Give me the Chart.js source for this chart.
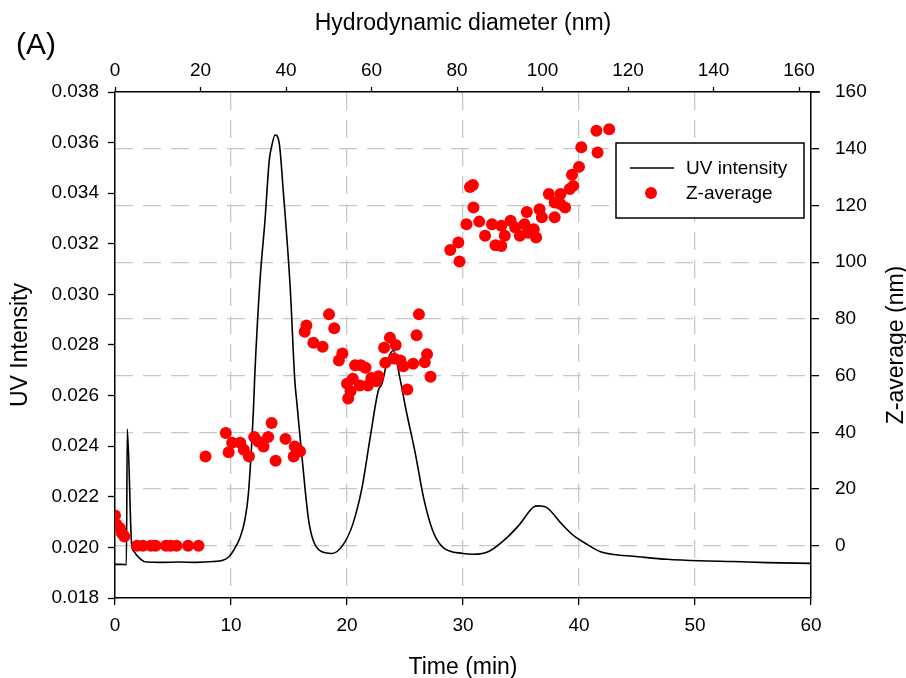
<!DOCTYPE html>
<html lang="en">
  <head>
    <meta charset="UTF-8" />
    <title>UV intensity and Z-average</title>
    <script src="https://cdn.jsdelivr.net/npm/chart.js"></script>
    <style>
      html, body {
        margin: 0;
        padding: 0;
        background-color: #fff;
      }
      .chart-box {
        position: relative;
        width: 906px;
        height: 678px;
      }
    </style>
  </head>
  <body>
    <div class="chart-box">
      <canvas id="sizeChart"></canvas>
    </div>

    <script>
      // UV trace (time in min, intensity)
      const uvTime = [0, 0.5, 0.98, 1.06, 1.43, 1.6, 2.2, 2.7, 4, 5.5, 7, 8.5, 9.3, 9.8, 10.05, 10.4, 10.78, 11.2, 11.5, 11.93, 12.05, 12.5, 12.93, 13.3, 13.5, 13.8, 14.16, 14.5, 15.1, 15.5, 15.66, 16.4, 16.7, 17.1, 17.7, 18.7, 19.7, 20.5, 21.3, 22.0, 22.7, 23.0, 23.5, 24.0, 24.6, 25.1, 25.9, 26.6, 27.4, 28.3, 30, 30.9, 32.3, 33.8, 34.9, 36.1, 36.5, 37.2, 38.4, 39.5, 40.7, 41.8, 43.0, 44.7, 47.6, 50.4, 53.3, 56.2, 60];
      const uvIntensity = [0.01933, 0.01933, 0.01932, 0.02468, 0.02014, 0.01986, 0.01954, 0.01942, 0.01941, 0.01942, 0.01941, 0.01944, 0.01949, 0.01962, 0.01976, 0.02002, 0.02039, 0.0211, 0.02212, 0.02541, 0.0268, 0.03055, 0.03293, 0.03531, 0.03584, 0.0363, 0.03597, 0.03412, 0.0303, 0.0266, 0.0258, 0.02224, 0.02105, 0.02026, 0.01986, 0.01976, 0.02013, 0.02092, 0.02237, 0.02435, 0.0262, 0.02646, 0.0274, 0.02778, 0.0266, 0.02541, 0.02369, 0.02197, 0.02065, 0.01999, 0.01976, 0.01973, 0.01986, 0.02039, 0.02092, 0.0216, 0.02164, 0.02158, 0.02098, 0.02048, 0.02012, 0.01984, 0.01972, 0.01965, 0.01953, 0.01947, 0.01944, 0.0194, 0.01937];

      // Z-average points (time in min, size in nm)
      const zTime = [0, 0.15, 0.43, 0.58, 0.8, 1.9, 2.4, 3.1, 3.5, 4.4, 4.8, 5.3, 6.3, 7.2,
        7.8, 9.55, 9.8, 10.1, 10.8, 11.1, 11.55, 12.0, 12.35, 12.8, 13.2, 13.5, 13.85, 14.7, 15.4, 15.5, 15.95,
        16.35, 16.5, 17.1, 17.9, 18.45, 18.9, 19.3, 19.6, 20.0, 20.1, 20.3, 20.5, 20.7, 21.1, 21.2, 21.6, 21.8, 22.1, 22.55, 22.7, 23.2, 23.3, 23.7, 24.05, 24.2, 24.6, 24.85, 25.2, 25.7, 26.0, 26.2, 26.7, 26.9, 27.2,
        28.9, 29.6, 29.7, 30.3, 30.6, 30.85, 30.9, 31.4, 31.9, 32.5, 32.8, 33.3, 33.3, 33.6, 34.1, 34.5, 34.9, 35.3, 35.5, 35.6, 36.1, 36.3, 36.6, 36.8, 37.4, 37.9, 37.9, 38.4, 38.4, 38.8, 39.2, 39.5, 39.4, 40.0, 40.2, 41.5, 41.6, 42.6];
      const zAverage = [10.7, 7.4, 6.2, 4.5, 3.3, 0, 0, 0, 0, 0, 0, 0, 0, 0,
        31.5, 39.8, 33, 36.3, 36.3, 33.9, 31.5, 38.4, 36.8, 35, 38.4, 43.3, 30, 37.7, 31.5, 35, 33.3,
        75.5, 77.7, 71.6, 70.2, 81.6, 76.7, 65.3, 67.8, 57.1, 51.9, 54.5, 58.9, 63.7, 56.5, 63.7, 62.8, 56.5, 59.2, 58, 59.8, 69.8, 64.5, 73.4, 66, 70.8, 65.3, 63.3, 55.1, 64.2, 74.2, 81.6, 64.7, 67.5, 59.6,
        104.3, 106.9, 100.2, 113.4, 126.5, 127.2, 119.3, 114.3, 109.3, 113.4, 106, 105.7, 112.8, 109.3, 114.6, 112.2, 109.3, 113.4, 117.7, 110.4, 111.6, 108.7, 118.7, 115.8, 124, 121, 115.8, 124, 120.5, 119.3, 125.8, 126.9, 130.8, 133.6, 140.5, 146.3, 138.7, 146.9];

      // axis ranges
      const timeRange = [0, 60];
      const uvRange = [0.018, 0.038];
      const zRange = [-18.4, 160];
      const diameterRange = [0, 162.8];

      const FONT = "'Liberation Sans', Arial, sans-serif";
      const gridGrey = "#c8c8c8";

      function fixSize(size) {
        return function (scale) {
          if (scale.isHorizontal()) scale.height = size;
          else scale.width = size;
        };
      }

      // titles, panel label and legend box
      const decorations = {
        id: "decorations",
        afterDraw(chart) {
          const ctx = chart.ctx;
          const area = chart.chartArea;
          ctx.save();

          // top axis line runs a little past the right axis
          ctx.strokeStyle = "#000";
          ctx.lineWidth = 1.5;
          ctx.beginPath();
          ctx.moveTo(area.right, area.top);
          ctx.lineTo(area.right + 9, area.top);
          ctx.stroke();

          ctx.fillStyle = "#000";
          ctx.font = "23px " + FONT;
          ctx.textAlign = "center";
          ctx.textBaseline = "alphabetic";
          ctx.fillText("Hydrodynamic diameter (nm)", 463, 30);
          ctx.fillText("Time (min)", 463, 674);

          ctx.save();
          ctx.translate(27, 345);
          ctx.rotate(-Math.PI / 2);
          ctx.fillText("UV Intensity", 0, 0);
          ctx.restore();

          ctx.save();
          ctx.translate(903, 345);
          ctx.rotate(-Math.PI / 2);
          ctx.fillText("Z-average (nm)", 0, 0);
          ctx.restore();

          ctx.font = "30px " + FONT;
          ctx.textAlign = "left";
          ctx.fillText("(A)", 16, 54);

          // legend
          const ds = chart.data.datasets;
          ctx.fillStyle = "#fff";
          ctx.fillRect(616, 143, 188, 75);
          ctx.strokeStyle = "#000";
          ctx.lineWidth = 1.5;
          ctx.strokeRect(616, 143, 188, 75);

          ctx.beginPath();
          ctx.moveTo(630, 168);
          ctx.lineTo(674, 168);
          ctx.lineWidth = 1.6;
          ctx.stroke();

          ctx.beginPath();
          ctx.arc(651, 193, 6, 0, Math.PI * 2);
          ctx.fillStyle = "#ff0000";
          ctx.fill();

          ctx.fillStyle = "#000";
          ctx.font = "19px " + FONT;
          ctx.textBaseline = "middle";
          ctx.fillText(ds[1].label, 686, 169);
          ctx.fillText(ds[0].label, 686, 194);
          ctx.restore();
        },
      };

      new Chart(document.getElementById("sizeChart"), {
        type: "line",
        data: {
          datasets: [
            {
              type: "scatter",
              label: "Z-average",
              data: zTime.map((t, i) => ({ x: t, y: zAverage[i] })),
              xAxisID: "x",
              yAxisID: "y2",
              backgroundColor: "#ff0000",
              borderWidth: 0,
              pointRadius: 6,
              order: 0,
            },
            {
              type: "line",
              label: "UV intensity",
              data: uvTime.map((t, i) => ({ x: t, y: uvIntensity[i] })),
              xAxisID: "x",
              yAxisID: "y",
              borderColor: "#000",
              borderWidth: 1.6,
              pointRadius: 0,
              fill: false,
              cubicInterpolationMode: "monotone",
              order: 1,
            },
          ],
        },
        options: {
          responsive: true,
          maintainAspectRatio: false,
          animation: false,
          layout: { padding: 0 },
          plugins: {
            legend: { display: false },
            tooltip: { enabled: false },
          },
          scales: {
            x: {
              type: "linear",
              position: "bottom",
              min: timeRange[0],
              max: timeRange[1],
              afterFit: fixSize(80),
              ticks: { stepSize: 10, color: "#000", font: { family: FONT, size: 19 }, padding: 9, maxRotation: 0 },
              grid: {
                color: (c) => (c.tick && (c.tick.value === 0 || c.tick.value === 60) ? "rgba(0,0,0,0)" : gridGrey),
                lineWidth: 1.3,
                tickColor: "#000",
                tickLength: 7,
                tickWidth: 1.3,
                tickBorderDash: [],
              },
              border: { display: true, color: "#000", width: 1.5, dash: [18, 10] },
            },
            x2: {
              type: "linear",
              position: "top",
              min: diameterRange[0],
              max: diameterRange[1],
              afterFit: fixSize(92),
              ticks: { stepSize: 20, includeBounds: false, color: "#000", font: { family: FONT, size: 19 }, padding: 5, maxRotation: 0 },
              grid: { drawOnChartArea: false, tickColor: "#000", tickLength: 5, tickWidth: 1.3 },
              border: { display: true, color: "#000", width: 1.5 },
            },
            y: {
              type: "linear",
              position: "left",
              min: uvRange[0],
              max: uvRange[1],
              afterFit: fixSize(115),
              ticks: {
                stepSize: 0.002,
                color: "#000",
                font: { family: FONT, size: 19 },
                padding: 9,
                callback: (v) => v.toFixed(3),
              },
              grid: { drawOnChartArea: false, tickColor: "#000", tickLength: 7, tickWidth: 1.3 },
              border: { display: true, color: "#000", width: 1.5 },
            },
            y2: {
              type: "linear",
              position: "right",
              min: zRange[0],
              max: zRange[1],
              afterFit: fixSize(95),
              ticks: { stepSize: 20, includeBounds: false, color: "#000", font: { family: FONT, size: 19 }, padding: 16 },
              grid: {
                color: (c) => (c.tick && c.tick.value === 160 ? "rgba(0,0,0,0)" : gridGrey),
                lineWidth: 1.3,
                tickColor: "#000",
                tickLength: 8,
                tickWidth: 1.3,
                tickBorderDash: [],
              },
              border: { display: true, color: "#000", width: 1.5, dash: [18, 10] },
            },
          },
        },
        plugins: [decorations],
      });
    </script>
  </body>
</html>
